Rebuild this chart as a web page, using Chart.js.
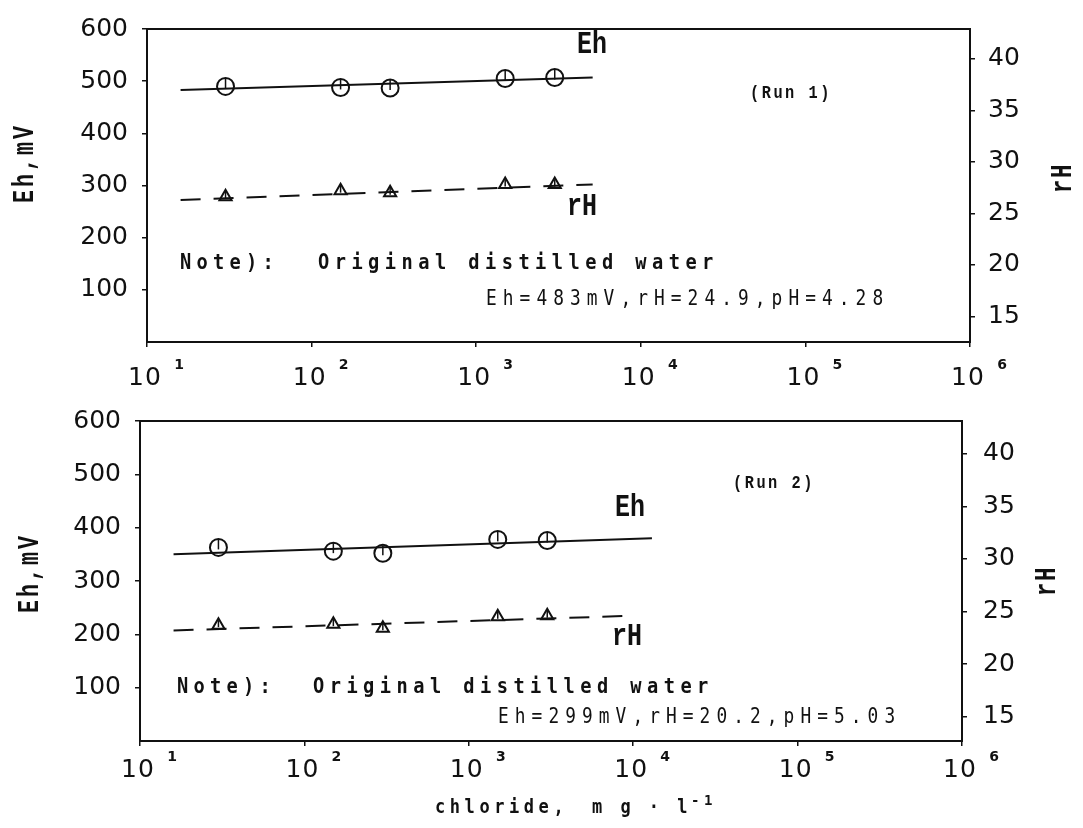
<!DOCTYPE html>
<html>
<head>
<meta charset="utf-8">
<script src="https://cdn.jsdelivr.net/npm/chart.js@4"></script>
<style>
  html, body { margin: 0; padding: 0; background: #fff; }
  #wrap { position: relative; width: 1083px; height: 828px; }
  canvas { position: absolute; left: 0; }
</style>
</head>
<body>
<div id="wrap">
  <canvas id="run1" width="1083" height="390" style="top:0"></canvas>
  <canvas id="run2" width="1083" height="438" style="top:390px"></canvas>
</div>
<script>
// chloride concentration, mg/l (log axis)
const CHLORIDE = [30, 150, 300, 1500, 3000];

// Run 1
const EH_RUN1 = [490, 488, 487, 505, 507];
const RH_RUN1 = [26.6, 27.2, 27.0, 27.8, 27.8];
const FIT_X_RUN1 = [16, 5100];
const EH_FIT_RUN1 = [483, 507];
const RH_FIT_RUN1 = [26.3, 27.8];

// Run 2
const EH_RUN2 = [363, 356, 352, 378, 376];
const RH_RUN2 = [23.7, 23.8, 23.4, 24.5, 24.6];
const EH_FIT_X_RUN2 = [16, 13000];
const EH_FIT_RUN2 = [350, 380];
const RH_FIT_X_RUN2 = [16, 10000];
const RH_FIT_RUN2 = [23.2, 24.6];

// ticks
const X_DECADES = [10, 100, 1000, 10000, 100000, 1000000];
const EH_TICKS = [100, 200, 300, 400, 500, 600];
const RH_TICKS = [15, 20, 25, 30, 35, 40];

const INK = "#111";
const xy = (xs, ys) => xs.map((x, i) => ({ x, y: ys[i] }));

// draws text one character at a time on a fixed advance (old plotter look)
function drawSpaced(ctx, text, x, y, adv, font, opts = {}) {
  const sx = opts.sx ?? 1;
  ctx.save();
  ctx.translate(x, y);
  if (opts.rot) ctx.rotate(opts.rot);
  ctx.scale(sx, 1);
  ctx.font = font;
  ctx.fillStyle = INK;
  ctx.textBaseline = "middle";
  ctx.textAlign = "left";
  [...text].forEach((ch, i) => ctx.fillText(ch, (i * adv) / sx, 0));
  ctx.restore();
}

function drawRotated(ctx, text, cx, cy, adv, font, sx) {
  const len = adv * text.length;
  drawSpaced(ctx, text, cx, cy + len / 2, adv, font, { rot: -Math.PI / 2, sx });
}

function decor(cfg) {
  return {
    id: "decor",
    afterDatasetsDraw(chart) {
      // small error marks inside the markers
      const ctx = chart.ctx;
      ctx.save();
      ctx.strokeStyle = INK;
      ctx.lineWidth = 1.5;
      chart.data.datasets.forEach((ds, i) => {
        if (!ds.errMark) return;
        chart.getDatasetMeta(i).data.forEach((pt) => {
          ctx.beginPath();
          ctx.moveTo(pt.x, pt.y - ds.errMark);
          ctx.lineTo(pt.x, pt.y + 2);
          ctx.stroke();
        });
      });
      ctx.restore();
    },
    afterDraw(chart) {
      const ctx = chart.ctx;
      const a = chart.chartArea;
      ctx.save();
      ctx.strokeStyle = INK;
      ctx.lineWidth = 2;
      ctx.strokeRect(a.left, a.top, a.right - a.left, a.bottom - a.top);
      ctx.restore();

      // x tick labels: 10 with raised exponent
      const xs = chart.scales.x;
      X_DECADES.forEach((v) => {
        const px = xs.getPixelForValue(v);
        ctx.save();
        ctx.fillStyle = INK;
        ctx.textAlign = "center";
        ctx.textBaseline = "middle";
        ctx.font = '25px "DejaVu Sans"';
        ctx.fillText("1", px - 11, cfg.xLabelY);
        ctx.fillText("0", px + 6, cfg.xLabelY);
        ctx.font = 'bold 14px "DejaVu Sans"';
        ctx.fillText(String(Math.round(Math.log10(v))), px + 32, cfg.xLabelY - 13);
        ctx.restore();
      });

      const mono = '"DejaVu Sans Mono"';
      const tw = '"Liberation Mono"';
      // line labels
      drawSpaced(ctx, "Eh", cfg.ehLabel[0], cfg.ehLabel[1], 15, `bold 32px ${tw}`, { sx: 0.78 });
      drawSpaced(ctx, "rH", cfg.rhLabel[0], cfg.rhLabel[1], 15, `bold 32px ${tw}`, { sx: 0.78 });
      drawSpaced(ctx, cfg.run, cfg.runPos[0], cfg.runPos[1], 11.7, `bold 18px ${tw}`, { sx: 0.85 });
      drawSpaced(ctx, "Note):", cfg.notePos[0], cfg.notePos[1], 16.5, `bold 22px ${mono}`, { sx: 0.85 });
      drawSpaced(ctx, "Original distilled water", cfg.origPos[0], cfg.notePos[1], 16.7, `bold 22px ${mono}`, { sx: 0.85 });
      drawSpaced(ctx, cfg.orig, cfg.origLine2[0], cfg.origLine2[1], 16.8, `21px ${mono}`, { sx: 0.85 });

      // axis titles
      drawRotated(ctx, "Eh,mV", cfg.leftTitle[0], cfg.leftTitle[1], 16, `bold 30px ${tw}`, 0.72);
      drawRotated(ctx, "rH", cfg.rightTitle[0], cfg.rightTitle[1], 15, `bold 30px ${tw}`, 0.75);

      if (cfg.xTitle) {
        const [tx, ty] = cfg.xTitle;
        drawSpaced(ctx, "chloride,", tx, ty, 14.8, `bold 20px ${mono}`, { sx: 0.85 });
        drawSpaced(ctx, "m g · l", tx + 157, ty, 14.2, `bold 20px ${mono}`, { sx: 0.85 });
        drawSpaced(ctx, "-1", tx + 256, ty - 7, 13, `bold 14px ${mono}`);
      }
    },
  };
}

function makeChart(id, d, cfg) {
  const axisGrid = {
    display: true,
    drawOnChartArea: false,
    drawTicks: true,
    tickLength: 5,
    color: INK,
    lineWidth: 1.5,
  };
  const axisBorder = { display: true, color: INK, width: 2 };
  const tickFont = { family: "DejaVu Sans", size: 25 };

  return new Chart(document.getElementById(id), {
    type: "scatter",
    data: {
      datasets: [
        {
          label: "Eh",
          data: xy(CHLORIDE, d.eh),
          yAxisID: "y",
          pointStyle: "circle",
          pointRadius: 8.5,
          borderColor: INK,
          backgroundColor: "rgba(0,0,0,0)",
          borderWidth: 2,
          errMark: 8,
        },
        {
          label: "rH",
          data: xy(CHLORIDE, d.rh),
          yAxisID: "y1",
          pointStyle: "triangle",
          pointRadius: 7,
          borderColor: INK,
          backgroundColor: "rgba(0,0,0,0)",
          borderWidth: 2,
          errMark: 5,
        },
        {
          label: "Eh fit",
          data: xy(d.ehFitX, d.ehFit),
          yAxisID: "y",
          showLine: true,
          pointRadius: 0,
          borderColor: INK,
          borderWidth: 2,
        },
        {
          label: "rH fit",
          data: xy(d.rhFitX, d.rhFit),
          yAxisID: "y1",
          showLine: true,
          pointRadius: 0,
          borderColor: INK,
          borderWidth: 2,
          borderDash: [20, 13],
        },
      ],
    },
    options: {
      responsive: false,
      animation: false,
      devicePixelRatio: 1,
      layout: { padding: { top: cfg.top, left: 0, right: 0, bottom: 0 } },
      plugins: { legend: { display: false }, tooltip: { enabled: false } },
      scales: {
        x: {
          type: "logarithmic",
          min: 10,
          max: 1000000,
          afterBuildTicks: (s) => { s.ticks = X_DECADES.map((v) => ({ value: v })); },
          afterFit: (s) => { s.height = cfg.height - cfg.bottom; },
          ticks: { callback: () => "", autoSkip: false, maxRotation: 0 },
          grid: axisGrid,
          border: axisBorder,
        },
        y: {
          position: "left",
          min: 0,
          max: 600,
          afterBuildTicks: (s) => { s.ticks = EH_TICKS.map((v) => ({ value: v })); },
          afterFit: (s) => { s.width = cfg.left; },
          ticks: { color: INK, font: tickFont, padding: 14 },
          grid: axisGrid,
          border: axisBorder,
        },
        y1: {
          position: "right",
          min: cfg.rhRange[0],
          max: cfg.rhRange[1],
          afterBuildTicks: (s) => { s.ticks = RH_TICKS.map((v) => ({ value: v })); },
          afterFit: (s) => { s.width = 1083 - cfg.right; },
          ticks: { color: INK, font: tickFont, padding: cfg.rPad },
          grid: axisGrid,
          border: axisBorder,
        },
      },
    },
    plugins: [decor(cfg)],
  });
}

makeChart(
  "run1",
  { eh: EH_RUN1, rh: RH_RUN1, ehFitX: FIT_X_RUN1, ehFit: EH_FIT_RUN1, rhFitX: FIT_X_RUN1, rhFit: RH_FIT_RUN1 },
  {
    height: 390, top: 16, bottom: 342, left: 147, right: 970, rPad: 13,
    rhRange: [12.5, 42.9],
    xLabelY: 378,
    ehLabel: [577, 45], rhLabel: [567, 207],
    run: "(Run 1)", runPos: [750, 93],
    notePos: [180, 263], origPos: [318, 0],
    orig: "Eh=483mV,rH=24.9,pH=4.28", origLine2: [486, 300],
    leftTitle: [25, 163], rightTitle: [1063, 178],
  }
);

makeChart(
  "run2",
  { eh: EH_RUN2, rh: RH_RUN2, ehFitX: EH_FIT_X_RUN2, ehFit: EH_FIT_RUN2, rhFitX: RH_FIT_X_RUN2, rhFit: RH_FIT_RUN2 },
  {
    height: 438, top: 25, bottom: 351, left: 140, right: 962, rPad: 16,
    rhRange: [12.7, 43.1],
    xLabelY: 380,
    ehLabel: [615, 118], rhLabel: [612, 247],
    run: "(Run 2)", runPos: [733, 93],
    notePos: [177, 297], origPos: [313, 0],
    orig: "Eh=299mV,rH=20.2,pH=5.03", origLine2: [498, 328],
    leftTitle: [30, 183], rightTitle: [1047, 191],
    xTitle: [435, 418],
  }
);
</script>
</body>
</html>
